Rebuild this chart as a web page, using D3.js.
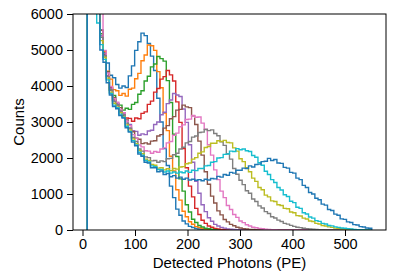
<!DOCTYPE html>
<html>
<head>
<meta charset="utf-8">
<script src="https://cdn.jsdelivr.net/npm/d3@7"></script>
<style>
  body { margin: 0; background: #fff; }
  text { font-family: "Liberation Sans", Arial, sans-serif; fill: #000; }
</style>
</head>
<body>
<div id="chart"></div>
<script>
// histogram binning (PE)
var binLo = 9, binHi = 551, nBins = 90;

var xTicks = [0, 100, 200, 300, 400, 500];
var yTicks = [0, 1000, 2000, 3000, 4000, 5000, 6000];

var colors = ["#1f77b4", "#ff7f0e", "#2ca02c", "#d62728", "#9467bd", "#8c564b",
              "#e377c2", "#7f7f7f", "#bcbd22", "#17becf", "#1f77b4"];

// counts per bin (missing trailing bins are empty)
var counts0 = [52000, 24000, 11800, 6700, 5560, 4930, 4640, 4300, 4230, 4040,
  3940, 4000, 3960, 4280, 4560, 4990, 5230, 5470, 5400, 5180,
  4830, 4430, 3660, 3000, 2260, 1790, 1220, 900, 580, 410,
  250, 170, 100, 70, 40, 28, 15, 12, 6, 4, 2];
var counts1 = [51000, 23500, 11500, 6600, 5400, 4960, 4410, 4190, 3900, 3870,
  3740, 3790, 3720, 3910, 3940, 4200, 4350, 4700, 4860, 5140,
  5120, 4990, 4400, 3950, 3250, 2760, 2050, 1640, 1120, 830,
  520, 370, 230, 160, 95, 68, 40, 28, 16, 11, 5, 3, 2];
var counts2 = [50500, 23000, 11300, 6500, 5450, 4800, 4390, 3910, 3740, 3500,
  3470, 3330, 3380, 3350, 3490, 3540, 3770, 3870, 4140, 4270,
  4530, 4610, 4820, 4760, 4690, 4150, 3540, 2660, 2040, 1420,
  1080, 700, 500, 300, 210, 125, 85, 48, 34, 19, 13, 6, 4, 2];
var counts3 = [50000, 22800, 11200, 6450, 5350, 4890, 4290, 3960, 3610, 3500,
  3300, 3250, 3110, 3100, 3020, 3110, 3090, 3240, 3280, 3490,
  3580, 3830, 3930, 4190, 4260, 4430, 4310, 4140, 3560, 2990,
  2260, 1730, 1220, 920, 600, 430, 270, 185, 110, 78,
  45, 32, 18, 13, 6, 4, 2];
var counts4 = [49800, 22600, 11100, 6400, 5400, 4890, 4280, 3940, 3600, 3520,
  3330, 3240, 3010, 2930, 2760, 2740, 2630, 2670, 2650, 2750,
  2770, 2930, 3000, 3200, 3270, 3510, 3610, 3790, 3750, 3710,
  3360, 2990, 2370, 1880, 1350, 1020, 700, 510, 340, 245,
  155, 112, 72, 52, 32, 23, 13, 9, 5, 3, 2];
var counts5 = [49500, 22500, 11000, 6350, 5550, 4860, 4390, 3880, 3680, 3470,
  3400, 3180, 3060, 2830, 2730, 2550, 2520, 2400, 2420, 2390,
  2470, 2480, 2610, 2650, 2830, 2900, 3090, 3150, 3330, 3350,
  3470, 3420, 3400, 3170, 2930, 2470, 2080, 1620, 1270, 940,
  750, 530, 420, 290, 225, 155, 118, 78, 56, 37,
  27, 17, 12, 8, 5, 3, 2];
var counts6 = [49000, 22300, 10900, 6800, 6100, 4990, 4360, 3990, 3650, 3550,
  3350, 3260, 3020, 2900, 2650, 2550, 2360, 2310, 2200, 2190,
  2130, 2180, 2160, 2250, 2280, 2420, 2460, 2630, 2690, 2870,
  2920, 3070, 3080, 3180, 3130, 3140, 2970, 2800, 2370, 2080,
  1670, 1400, 1080, 900, 680, 570, 430, 350, 250, 205,
  145, 112, 78, 62, 43, 33, 21, 15, 9, 6, 4, 2];
var counts7 = [48500, 22000, 10800, 6300, 5350, 4840, 4260, 3890, 3570, 3480,
  3300, 3200, 2970, 2830, 2570, 2460, 2250, 2190, 2030, 2010,
  1920, 1930, 1880, 1920, 1900, 1980, 1990, 2090, 2130, 2250,
  2300, 2420, 2460, 2580, 2610, 2710, 2720, 2790, 2760, 2780,
  2680, 2620, 2450, 2350, 2120, 1970, 1710, 1550, 1380, 1260,
  1090, 1020, 860, 790, 670, 610, 510, 460, 370, 335,
  275, 235, 185, 162, 128, 102, 78, 66, 48, 39,
  27, 21, 13, 10, 6, 4, 2];
var counts8 = [48000, 21800, 10700, 6250, 5260, 4790, 4220, 3830, 3520, 3420,
  3260, 3150, 2920, 2780, 2530, 2400, 2210, 2120, 1970, 1930,
  1820, 1800, 1720, 1730, 1670, 1700, 1650, 1710, 1690, 1750,
  1760, 1840, 1860, 1970, 2010, 2130, 2170, 2290, 2320, 2410,
  2410, 2480, 2460, 2490, 2430, 2420, 2280, 2190, 1980, 1900,
  1730, 1620, 1440, 1350, 1180, 1120, 970, 920, 810, 790,
  700, 680, 600, 590, 500, 480, 400, 390, 330, 305,
  250, 235, 185, 165, 125, 112, 86, 72, 52, 46,
  33, 26, 17, 12, 8, 5, 3, 2];
var counts9 = [47500, 21500, 10500, 5750, 5150, 4740, 4170, 3790, 3470, 3400,
  3220, 3130, 2880, 2740, 2480, 2360, 2160, 2080, 1930, 1890,
  1780, 1760, 1680, 1680, 1610, 1640, 1580, 1610, 1580, 1610,
  1590, 1640, 1600, 1660, 1650, 1710, 1710, 1780, 1790, 1880,
  1900, 2000, 2010, 2100, 2110, 2190, 2180, 2260, 2230, 2250,
  2200, 2180, 2070, 2020, 1870, 1800, 1630, 1540, 1400, 1320,
  1180, 1110, 980, 930, 800, 760, 630, 600, 480, 445,
  360, 330, 260, 240, 185, 165, 125, 114, 86, 73,
  57, 47, 33, 26, 14, 11, 5, 3, 2];
var counts10 = [47000, 21000, 10300, 6300, 5000, 4660, 4090, 3750, 3430, 3370,
  3180, 3110, 2840, 2720, 2440, 2340, 2110, 2050, 1880, 1860,
  1730, 1730, 1620, 1640, 1540, 1570, 1480, 1510, 1440, 1470,
  1410, 1440, 1390, 1410, 1380, 1400, 1370, 1410, 1390, 1430,
  1420, 1490, 1470, 1540, 1520, 1600, 1580, 1660, 1660, 1720,
  1710, 1780, 1750, 1820, 1830, 1900, 1910, 1990, 1930, 1960,
  1860, 1850, 1740, 1720, 1600, 1580, 1440, 1400, 1240, 1180,
  1040, 1000, 880, 840, 720, 690, 570, 540, 440, 410,
  310, 295, 225, 210, 150, 138, 95, 84, 56, 48];

var series = [counts0, counts1, counts2, counts3, counts4, counts5,
              counts6, counts7, counts8, counts9, counts10];

var W = 407, H = 271;
var plotL = 73, plotR = 386, plotT = 14, plotB = 230;

var binW = (binHi - binLo) / nBins;
var pad = (binHi - binLo) * 0.05;

var x = d3.scaleLinear().domain([binLo - pad, binHi + pad]).range([plotL, plotR]);
var y = d3.scaleLinear().domain([0, 6000]).range([plotB, plotT]);

var svg = d3.select("#chart").append("svg")
    .attr("width", W)
    .attr("height", H);

svg.append("clipPath").attr("id", "plot")
  .append("rect")
    .attr("x", plotL).attr("y", plotT)
    .attr("width", plotR - plotL).attr("height", plotB - plotT);

// step outline of each histogram
function stepPoints(c) {
  var pts = [[binLo, 0]];
  for (var i = 0; i < nBins; i++) {
    var v = c[i] || 0;
    pts.push([binLo + i * binW, v]);
    pts.push([binLo + (i + 1) * binW, v]);
  }
  pts.push([binHi, 0]);
  return pts;
}

var line = d3.line()
    .x(function(d) { return x(d[0]); })
    .y(function(d) { return y(d[1]); });

svg.append("g").attr("clip-path", "url(#plot)")
  .selectAll("path")
  .data(series)
  .enter().append("path")
    .attr("d", function(d) { return line(stepPoints(d)); })
    .attr("fill", "none")
    .attr("stroke", function(d, i) { return colors[i]; })
    .attr("stroke-width", 1.4)
    .attr("stroke-linejoin", "miter");

var xAxis = svg.append("g")
    .attr("transform", "translate(0," + plotB + ")")
    .call(d3.axisBottom(x).tickValues(xTicks).tickFormat(d3.format("d"))
      .tickSize(6).tickPadding(3));
var yAxis = svg.append("g")
    .attr("transform", "translate(" + plotL + ",0)")
    .call(d3.axisLeft(y).tickValues(yTicks).tickFormat(d3.format("d"))
      .tickSize(6).tickPadding(4));

[xAxis, yAxis].forEach(function(g) {
  g.select(".domain").remove();
  g.selectAll("text").style("font-size", "14.5px").style("font-family", "Liberation Sans, Arial, sans-serif");
  g.selectAll("line").attr("stroke", "#000").attr("stroke-width", 1);
});

svg.append("rect")
    .attr("x", plotL).attr("y", plotT)
    .attr("width", plotR - plotL).attr("height", plotB - plotT)
    .attr("fill", "none")
    .attr("stroke", "#000")
    .attr("stroke-width", 1);

svg.append("text")
    .attr("x", (plotL + plotR) / 2)
    .attr("y", 268)
    .attr("text-anchor", "middle")
    .style("font-size", "15px")
    .text("Detected Photons (PE)");

svg.append("text")
    .attr("transform", "translate(24," + (plotT + plotB) / 2 + ") rotate(-90)")
    .attr("text-anchor", "middle")
    .style("font-size", "15px")
    .text("Counts");
</script>
</body>
</html>
